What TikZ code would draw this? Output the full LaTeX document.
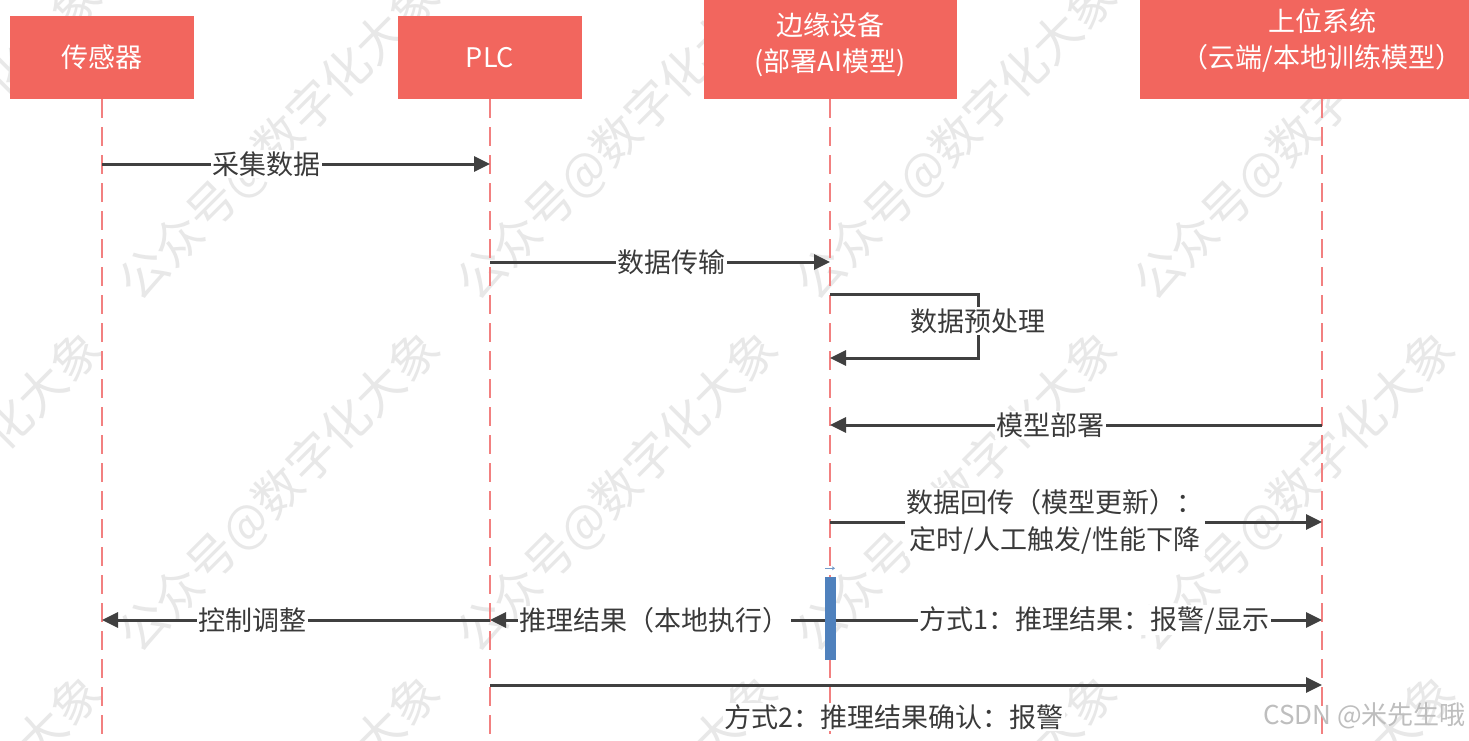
\documentclass[tikz,border=0pt]{standalone}
\usepackage{fontspec}
\setmainfont{Noto Sans CJK SC}
\usetikzlibrary{arrows.meta}
\definecolor{boxred}{RGB}{242,102,94}
\definecolor{linegray}{RGB}{64,64,64}
\definecolor{textgray}{RGB}{58,58,58}
\definecolor{lifered}{RGB}{242,128,128}
\definecolor{barblue}{RGB}{79,129,189}
\definecolor{wmgray}{RGB}{232,232,232}
\definecolor{csdngray}{RGB}{190,190,190}
\begin{document}
\begin{tikzpicture}[x=1pt,y=-1pt,
  actor/.style={fill=boxred, text=white, align=center, inner sep=0pt, font=\fontsize{27}{36}\selectfont},
  msg/.style={draw=linegray, line width=3pt, -{Triangle[length=16pt,width=15pt]}},
  lbl/.style={fill=white, text=textgray, inner sep=1.5pt, align=center, font=\fontsize{27}{37}\selectfont},
  life/.style={draw=lifered, line width=1.3pt, dash pattern=on 19pt off 9pt},
  wm/.style={text=wmgray, rotate=45, inner sep=0pt, font=\fontsize{48}{48}\selectfont},
  actbar/.style={fill=barblue, minimum width=11pt, minimum height=83pt, inner sep=0pt},
]
\useasboundingbox (0,0) rectangle (1469,741);
\clip (0,0) rectangle (1469,741);
\fill[white] (0,0) rectangle (1469,741);

% watermark
\foreach \cx [count=\i] in {-58,280,618,957,1295,1633}
  \foreach \cy [count=\j] in {140,492,836}
    \node[wm] (wm\i-\j) at (\cx,\cy) {公众号@数字化大象};

% actors
\node[actor, minimum width=184pt, minimum height=83pt] (sensor) at (102,57.5) {传感器};
\node[actor, minimum width=184pt, minimum height=83pt] (plc) at (490,57.5) {PLC};
\node[actor, minimum width=253pt, minimum height=108pt] (edge) at (830,45) {边缘设备\\(部署AI模型)};
\node[actor, minimum width=364pt, minimum height=118pt] (upper) at (1322,40) {上位系统\\（云端/本地训练模型）};

% lifelines
\coordinate (bot) at (0,741);
\foreach \a in {sensor,plc,edge,upper}
  \draw[life] (\a.south) -- (\a.south |- bot);

% message rows
\coordinate (r1) at (0,164);
\coordinate (r2) at (0,262);
\coordinate (r3b) at (0,358);
\coordinate (lp) at (978,294);
\coordinate (r4) at (0,425);
\coordinate (r5) at (0,522);
\coordinate (r6) at (0,620);
\coordinate (r7) at (0,685);

\draw[msg] (sensor |- r1) -- node[lbl, pos=0.425] {采集数据} (plc |- r1);
\draw[msg] (plc |- r2) -- node[lbl, pos=0.535] {数据传输} (edge |- r2);
\draw[msg] (edge |- lp) -- (lp) -- node[lbl, pos=0.42] {数据预处理} (lp |- r3b) -- (edge |- r3b);
\draw[msg] (upper |- r4) -- node[lbl, pos=0.551] {模型部署} (edge |- r4);
\draw[msg] (edge |- r5) -- node[lbl, pos=0.457] {数据回传（模型更新）：\\定时/人工触发/性能下降} (upper |- r5);
\draw[msg] (edge |- r6) -- node[lbl, pos=0.538] {方式1：推理结果：报警/显示} (upper |- r6);
\draw[msg] (edge |- r6) -- node[lbl, pos=0.515] {推理结果（本地执行）} (plc |- r6);
\draw[msg] (plc |- r6) -- node[lbl, pos=0.611] {控制调整} (sensor |- r6);
\draw[msg] (plc |- r7) -- node[lbl, pos=0.486, yshift=-32pt] {方式2：推理结果确认：报警} (upper |- r7);

% activation bar
\node[actbar] (act) at (830,618) {};
\draw[barblue!80, line width=0.8pt, -{Stealth[length=3pt,width=4pt]}]
  ([xshift=-5pt,yshift=8pt]act.north) -- ([xshift=5pt,yshift=8pt]act.north);

% credit
\node[text=csdngray, anchor=east, inner sep=0pt, font=\fontsize{26}{26}\selectfont] (csdn) at (1466,716) {CSDN @米先生哦};
\end{tikzpicture}
\end{document}
